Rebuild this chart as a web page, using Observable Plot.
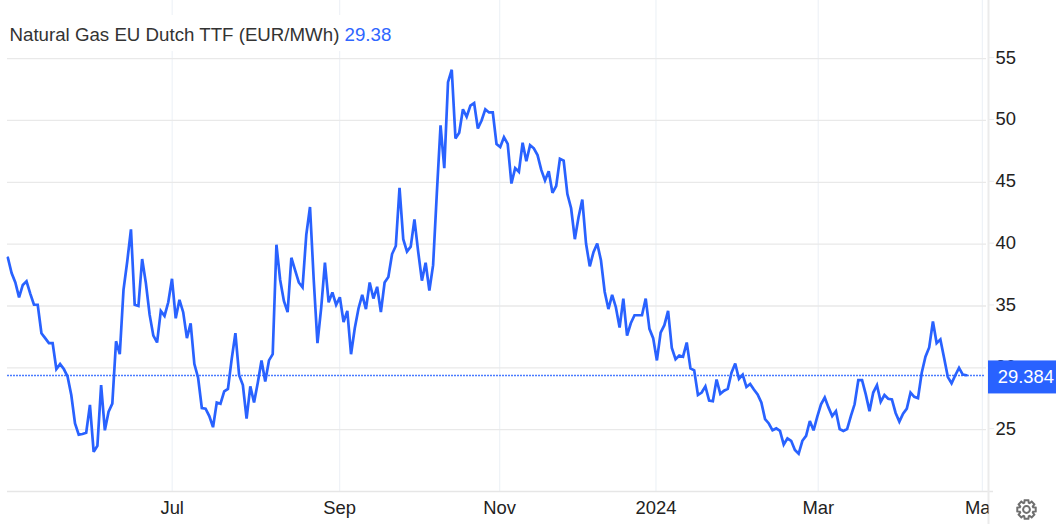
<!DOCTYPE html>
<html>
<head>
<meta charset="utf-8">
<script src="https://cdn.jsdelivr.net/npm/d3@7"></script>
<script src="https://cdn.jsdelivr.net/npm/@observablehq/plot@0.6"></script>
<style>
html,body{margin:0;padding:0;background:#fff;overflow:hidden}
#wrap{position:relative;width:1056px;height:524px;font-family:"Liberation Sans",Arial,sans-serif}
#title{position:absolute;left:0;top:15px;height:36px;line-height:39px;padding:0 6px 0 9.5px;background:#fff;font-size:18.7px;color:#333;white-space:nowrap}
#title span{color:#2f66ff}
svg{display:block}
</style>
</head>
<body>
<div id="wrap">
<div id="title">Natural Gas EU Dutch TTF (EUR/MWh) <span>29.38</span></div>
</div>
<script>
const seriesName = "Natural Gas EU Dutch TTF (EUR/MWh)";
const lastLabel = "29.384";
const lastValue = 29.384;
const prices = [
38.9,37.66,36.9,35.7,36.7,37.0,36.0,35.1,35.1,32.8,32.4,32.0,32.0,29.9,30.3,29.9,29.3,27.8,25.5,24.6,
24.65,24.75,27.0,23.2,23.7,28.6,24.95,26.45,27.1,32.15,31.1,36.3,38.6,41.2,35.1,35.0,38.8,36.85,34.3,32.6,
32.05,34.6,34.2,35.3,37.2,34.0,35.5,34.5,32.4,33.6,30.3,29.2,26.75,26.7,26.1,25.2,27.2,27.1,28.1,28.3,
30.7,32.8,29.4,28.6,25.9,28.5,27.2,28.8,30.6,28.9,30.6,31.1,39.95,37.1,35.4,34.5,38.9,37.9,36.9,36.5,
40.75,43.0,37.1,32.0,34.85,38.5,35.3,36.1,35.1,35.7,33.7,34.6,31.1,33.2,34.8,35.9,34.75,36.9,35.6,36.55,
34.5,36.9,37.35,39.2,39.85,44.55,40.4,39.4,39.8,42.0,39.4,37.05,38.5,36.25,38.3,44.1,49.6,46.15,53.1,54.1,
48.55,49.0,50.9,50.3,51.2,51.4,49.35,50.0,50.9,50.65,50.65,48.1,47.85,48.65,48.1,44.9,46.15,45.85,48.2,46.7,
48.0,47.75,47.2,46.0,45.15,45.9,44.15,44.7,46.9,46.75,44.05,42.9,40.4,42.2,43.6,40.05,38.2,39.35,40.05,38.7,
36.15,34.75,35.9,34.9,33.25,35.6,32.6,33.6,34.25,34.25,34.25,35.6,33.15,32.4,30.6,32.85,33.45,34.6,31.6,30.7,
31.0,30.9,32.05,29.95,29.8,27.8,28.0,28.5,27.35,27.3,29.05,27.9,28.15,28.3,29.6,30.35,29.1,29.45,28.45,28.7,
28.25,27.85,27.2,25.85,25.5,24.95,25.1,24.9,23.8,24.3,24.1,23.35,23.05,24.1,24.5,25.7,24.95,26.05,27.05,27.6,
26.8,26.1,26.5,25.05,24.9,25.05,26.1,27.05,29.0,29.0,27.85,26.5,28.0,28.6,27.25,27.8,27.5,27.45,26.35,25.65,
26.3,26.7,28.0,27.65,27.55,29.6,30.9,31.65,33.75,32.0,32.3,30.8,29.25,28.75,29.4,30.0,29.45,29.4
];
const sessions = prices.map((_, i) => i);
const monthTicks = [44.05, 88.95, 131.85, 173.75, 217.25, 261.25];
const monthLabels = ["Jul", "Sep", "Nov", "2024", "Mar", "May"];
const priceTicks = [25, 30, 35, 40, 45, 50, 55];

const xDomain = [-0.1, 262.9];
const yDomain = [20.0, 59.7];
const rows = sessions.map((s, i) => ({session: s, price: prices[i]}));
const labelOf = new Map(monthTicks.map((t, i) => [t, monthLabels[i]]));
const blue = "#2962ff";

const plot = Plot.plot({
  width: 1056, height: 524,
  marginLeft: 7, marginRight: 68, marginTop: 0, marginBottom: 33,
  x: {domain: xDomain},
  y: {domain: yDomain},
  style: {fontFamily: '"Liberation Sans",Arial,sans-serif', fontSize: "18.4px", background: "#fff", overflow: "visible"},
  marks: [
    Plot.ruleX(monthTicks, {stroke: "#eef2f7", strokeWidth: 1.2}),
    Plot.ruleY(priceTicks, {stroke: "#e9e9e9", strokeWidth: 1.3, insetRight: 2}),
    Plot.ruleY([yDomain[0]], {stroke: "#e6e6e6", strokeWidth: 1.6, insetRight: -5}),
    Plot.ruleX([xDomain[1]], {stroke: "#ebebeb", strokeWidth: 2, insetBottom: -33}),
    Plot.axisX({ticks: monthTicks, tickFormat: d => labelOf.get(d), tickSize: 0, tickPadding: 9, label: null, fill: "#222", anchor: "bottom"}),
    Plot.axisY({ticks: priceTicks, anchor: "right", tickSize: 5, tickPadding: 2, dy: -1, label: null, stroke: "#ebebeb", fill: "#222", textAnchor: "start"}),
    Plot.ruleY([lastValue], {stroke: "#4a7bff", strokeWidth: 1.4, strokeDasharray: "2,1", insetRight: 3}),
    Plot.line(rows, {x: "session", y: "price", stroke: blue, strokeWidth: 2.7, strokeLinejoin: "miter", strokeMiterlimit: 3, curve: "linear"})
  ]
});

const wrap = document.getElementById("wrap");
wrap.insertBefore(plot, wrap.firstChild);

const svg = d3.select(plot);
const tagX = plot.scale("x").apply(xDomain[1]);
const tagY = plot.scale("y").apply(lastValue);

// clip the last month label at the price axis, as in the widget
svg.append("clipPath").attr("id", "xlabClip").append("rect")
  .attr("x", 0).attr("y", -2000).attr("width", tagX).attr("height", 4000);
svg.selectAll("g[aria-label='x-axis tick label']").attr("clip-path", "url(#xlabClip)");

// last-price tag
const tag = svg.append("g");
tag.append("rect").attr("x", tagX).attr("y", tagY - 14.5).attr("width", 1056 - tagX).attr("height", 33).attr("fill", blue);
tag.append("text").attr("x", 1054).attr("y", tagY + 2).attr("text-anchor", "end")
  .attr("dominant-baseline", "central").attr("fill", "#fff").attr("font-size", "18.4px").text(lastLabel);

// settings gear
const gear = d3.range(8).flatMap(k => {
  const a = k * Math.PI / 4 - Math.PI / 2, w = 0.2, o = 9.4, r = 7;
  return [[a - w - 0.13, r], [a - w, o], [a + w, o], [a + w + 0.13, r]].map(([t, R]) => [R * Math.cos(t), R * Math.sin(t)]);
});
const g = svg.append("g").attr("transform", "translate(1026.5,509.5)").attr("fill", "none").attr("stroke", "#6f6f6f").attr("stroke-width", 2);
g.append("path").attr("d", "M" + gear.join("L") + "Z");
g.append("circle").attr("r", 3.4);
</script>
</body>
</html>
